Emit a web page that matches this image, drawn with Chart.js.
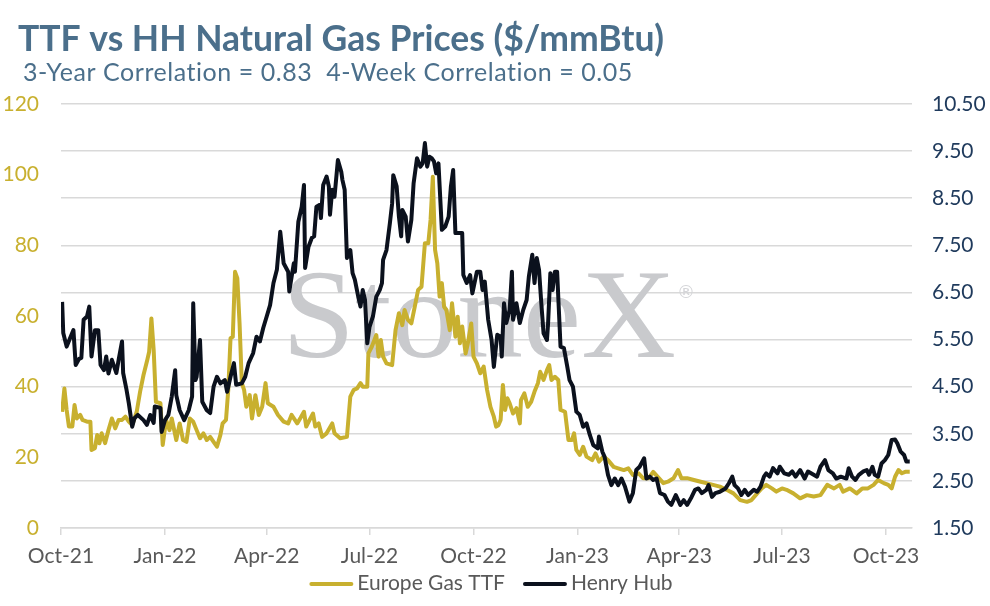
<!DOCTYPE html>
<html>
<head>
<meta charset="utf-8">
<title>TTF vs HH Natural Gas Prices</title>
<script src="https://cdn.jsdelivr.net/npm/chart.js@4.4.1/dist/chart.umd.min.js"></script>
<style>
  html, body { margin: 0; padding: 0; background: #fff; }
  #wrap { width: 990px; height: 606px; position: relative; }
</style>
</head>
<body>
<div id="wrap"><canvas id="chart"></canvas></div>
<script>
/* ── data: days since 1 Oct 2021 ── */
const tickDays   = [0, 92, 182, 273, 365, 457, 547, 638, 730];
const tickLabels = ['Oct-21', 'Jan-22', 'Apr-22', 'Jul-22', 'Oct-22', 'Jan-23', 'Apr-23', 'Jul-23', 'Oct-23'];

const ttfTicks = [0, 20, 40, 60, 80, 100, 120];
const hhTicks  = [1.5, 2.5, 3.5, 4.5, 5.5, 6.5, 7.5, 8.5, 9.5, 10.5];

// Europe Gas TTF ($/mmBtu)
const ttfDays = [1, 3, 5, 7, 10, 12, 14, 17, 19, 23, 26, 27, 30, 32, 34, 36, 39, 42, 45, 48,
  51, 54, 57, 60, 63, 67, 70, 73, 76, 78, 80, 82, 84, 88, 90, 93, 96, 98, 102, 105,
  108, 111, 114, 117, 120, 123, 126, 129, 132, 135, 138, 141, 143, 146, 148, 150, 152, 154, 156, 158,
  160, 162, 164, 167, 169, 172, 175, 178, 181, 183, 188, 192, 197, 201, 204, 209, 212, 215, 217, 220,
  223, 225, 228, 231, 235, 240, 242, 247, 253, 256, 259, 262, 265, 267, 271, 272, 275, 279, 281, 283,
  285, 288, 293, 296, 299, 302, 304, 307, 310, 313, 316, 319, 322, 325, 327, 329, 331, 333, 335, 337,
  339, 341, 344, 346, 349, 351, 353, 355, 358, 360, 363, 365, 368, 371, 374, 377, 380, 383, 385, 387,
  389, 391, 393, 395, 397, 400, 403, 406, 407, 410, 413, 416, 419, 422, 424, 427, 430, 432, 434, 437,
  440, 442, 446, 449, 452, 454, 456, 459, 462, 465, 470, 473, 476, 480, 484, 489, 493, 498, 502, 506,
  511, 515, 520, 524, 529, 533, 537, 542, 546, 549, 554, 560, 566, 571, 577, 583, 589, 595, 601, 607,
  611, 616, 620, 624, 629, 633, 638, 642, 648, 654, 660, 666, 672, 678, 684, 689, 692, 698, 704, 709,
  714, 719, 723, 728, 732, 735, 738, 741, 744, 747, 751];
const ttfValues = [32.9, 39.5, 33.4, 28.7, 28.7, 34.8, 31.0, 32.0, 30.6, 30.1, 30.1, 22.1, 22.6, 26.3, 24.0, 26.8, 24.0, 27.7, 31.0, 28.2,
  30.6, 30.6, 31.5, 30.1, 29.1, 32.9, 38.6, 43.3, 47.1, 49.9, 59.3, 50.4, 35.7, 35.3, 23.5, 30.6, 27.7, 31.0, 24.9, 29.6,
  24.9, 24.4, 31.0, 30.1, 27.7, 25.4, 26.8, 24.9, 25.8, 24.4, 23.0, 26.3, 29.6, 30.6, 39.1, 53.7, 54.1, 72.5, 70.7, 57.9,
  41.0, 39.1, 34.3, 37.6, 31.0, 37.6, 32.0, 34.3, 41.0, 35.3, 34.3, 32.0, 30.1, 29.6, 32.0, 29.6, 31.2, 32.9, 28.7, 30.6,
  32.4, 28.7, 29.6, 25.8, 26.8, 29.6, 26.8, 25.4, 25.8, 37.2, 39.1, 39.5, 41.0, 40.0, 40.0, 49.4, 51.3, 54.6, 48.5, 53.2,
  48.5, 46.6, 46.1, 56.0, 60.8, 57.4, 61.7, 58.9, 57.9, 62.6, 67.4, 68.3, 80.6, 80.6, 87.2, 99.4, 78.7, 74.9, 65.5, 69.3,
  62.6, 61.7, 56.0, 63.6, 54.1, 59.8, 52.3, 57.0, 49.4, 52.3, 57.9, 48.5, 46.6, 43.8, 45.7, 39.1, 34.3, 31.5, 28.7, 29.1,
  30.6, 40.5, 33.4, 36.7, 35.3, 32.4, 33.9, 29.6, 36.2, 38.1, 34.3, 35.7, 38.6, 41.0, 44.2, 41.9, 44.7, 46.1, 41.9, 42.8,
  41.9, 33.4, 32.9, 24.9, 24.9, 26.8, 22.1, 20.7, 23.0, 20.2, 19.2, 21.1, 18.8, 20.2, 19.2, 17.3, 16.9, 16.4, 16.9, 15.0,
  15.5, 14.1, 14.1, 15.9, 14.1, 12.7, 13.1, 14.1, 16.4, 14.1, 14.1, 13.6, 13.1, 12.7, 12.2, 11.7, 10.8, 9.8, 7.9, 7.4,
  7.9, 9.8, 11.2, 12.2, 11.2, 10.3, 11.2, 10.8, 9.8, 8.4, 9.3, 8.9, 9.3, 12.2, 11.2, 12.2, 10.3, 11.2, 9.8, 11.2,
  11.2, 12.2, 13.6, 12.7, 12.2, 11.2, 14.5, 16.4, 15.5, 15.9, 15.9];

// Henry Hub ($/mmBtu)
const hhDays = [1, 2, 5, 8, 11, 13, 16, 18, 20, 23, 25, 27, 30, 33, 35, 38, 40, 42, 45, 49,
  51, 54, 55, 58, 60, 63, 65, 68, 73, 76, 79, 82, 83, 88, 89, 92, 95, 98, 101, 102,
  105, 109, 113, 116, 117, 119, 120, 123, 125, 129, 132, 135, 138, 141, 145, 147, 150, 153, 155, 160,
  163, 166, 170, 173, 176, 179, 182, 185, 188, 191, 194, 197, 201, 202, 206, 207, 210, 213, 215, 216,
  219, 222, 224, 226, 229, 230, 232, 235, 237, 238, 240, 242, 245, 248, 249, 251, 253, 256, 258, 260,
  263, 265, 267, 269, 271, 273, 276, 279, 282, 284, 285, 288, 291, 293, 294, 297, 299, 301, 302, 305,
  307, 310, 312, 315, 318, 320, 322, 324, 326, 328, 330, 332, 334, 337, 340, 343, 345, 347, 349, 352,
  355, 356, 359, 362, 364, 368, 371, 373, 375, 378, 381, 383, 386, 389, 390, 392, 394, 397, 399, 400,
  403, 406, 409, 412, 414, 417, 419, 421, 423, 425, 427, 430, 431, 433, 435, 437, 439, 442, 445, 448,
  450, 453, 456, 459, 462, 465, 468, 471, 475, 476, 479, 481, 484, 487, 490, 493, 496, 499, 503, 506,
  509, 512, 516, 518, 521, 524, 527, 530, 534, 537, 540, 544, 548, 551, 554, 558, 561, 564, 567, 571,
  573, 576, 579, 583, 588, 591, 594, 596, 599, 602, 605, 608, 613, 616, 619, 622, 624, 627, 630, 634,
  636, 640, 644, 647, 650, 654, 658, 661, 666, 669, 672, 676, 679, 683, 686, 690, 695, 697, 700, 703,
  706, 710, 713, 715, 718, 720, 723, 726, 729, 732, 735, 738, 740, 743, 746, 748, 751];
const hhValues = [6.30, 5.64, 5.35, 5.53, 5.70, 4.96, 5.09, 5.11, 5.92, 5.99, 6.20, 5.14, 5.70, 5.70, 4.96, 4.85, 5.14, 4.78, 5.07, 4.79,
  5.07, 5.46, 4.79, 4.43, 4.15, 3.65, 3.83, 3.90, 3.79, 3.69, 3.90, 3.73, 4.08, 4.05, 3.54, 3.79, 3.90, 4.29, 4.85, 4.32,
  4.00, 3.79, 4.00, 4.29, 6.27, 4.64, 4.71, 5.49, 4.18, 4.00, 3.94, 4.50, 4.71, 4.57, 4.64, 4.39, 4.71, 5.00, 4.54, 4.57,
  4.71, 5.00, 5.21, 5.56, 5.46, 5.75, 5.99, 6.23, 6.70, 6.98, 7.79, 7.12, 6.94, 6.52, 7.12, 6.94, 8.00, 8.32, 8.78, 7.02,
  7.47, 7.66, 7.69, 8.32, 8.36, 8.08, 8.78, 8.96, 8.75, 8.15, 8.68, 8.53, 9.31, 9.06, 8.89, 8.68, 7.23, 7.40, 6.91, 6.77,
  6.41, 6.20, 6.55, 6.34, 5.42, 5.77, 5.99, 6.41, 6.55, 6.70, 7.19, 7.40, 7.97, 8.39, 8.99, 8.75, 8.11, 7.69, 8.25, 8.11,
  7.58, 8.04, 8.82, 9.35, 9.17, 9.24, 9.67, 9.17, 9.38, 9.35, 9.28, 9.03, 9.24, 7.83, 7.90, 8.11, 8.75, 9.10, 7.76, 7.76,
  7.76, 6.87, 6.70, 6.87, 6.48, 6.94, 6.94, 6.55, 6.73, 5.92, 5.49, 4.92, 5.60, 5.56, 5.14, 6.27, 5.85, 6.13, 6.94, 5.92,
  6.27, 5.85, 6.13, 6.34, 6.84, 7.30, 6.70, 7.23, 6.98, 6.27, 5.63, 5.49, 5.85, 6.91, 6.55, 6.94, 6.94, 5.35, 5.32, 4.92,
  4.64, 4.50, 3.97, 3.90, 3.65, 3.72, 3.47, 3.26, 3.19, 3.44, 3.12, 3.01, 2.63, 2.41, 2.55, 2.41, 2.55, 2.38, 2.06, 2.24,
  2.73, 2.80, 2.98, 2.55, 2.59, 2.52, 2.55, 2.24, 2.20, 2.06, 1.99, 2.20, 1.99, 2.09, 1.99, 2.16, 2.31, 2.34, 2.24, 2.31,
  2.41, 2.16, 2.24, 2.27, 2.34, 2.45, 2.59, 2.41, 2.34, 2.20, 2.31, 2.20, 2.31, 2.27, 2.38, 2.59, 2.66, 2.59, 2.77, 2.66,
  2.80, 2.66, 2.63, 2.70, 2.59, 2.73, 2.55, 2.70, 2.63, 2.59, 2.80, 2.94, 2.73, 2.66, 2.55, 2.59, 2.55, 2.77, 2.59, 2.52,
  2.63, 2.70, 2.73, 2.63, 2.80, 2.63, 2.59, 2.87, 2.94, 3.05, 3.37, 3.38, 3.30, 3.12, 3.05, 2.91, 2.91];

const chartTitle    = 'TTF vs HH Natural Gas Prices ($/mmBtu)';
const chartSubtitle = '3-Year Correlation = 0.83  4-Week Correlation = 0.05';

/* ── colours ── */
const GOLD  = '#c8b02f';
const INK   = '#0b111d';
const STEEL = '#4b6f8b';
const NAVY  = '#1f3a5c';
const GREY  = '#595959';
const GRID  = '#d9d9d9';
const FONT  = "Lato, 'Noto Sans', sans-serif";

const toPoints = (xs, ys) => xs.map((x, i) => ({ x, y: ys[i] }));

/* ── title + subtitle, drawn in the top padding ── */
const header = {
  id: 'header',
  afterDraw(chart) {
    const { ctx } = chart;
    ctx.save();
    ctx.fillStyle = STEEL;
    ctx.textBaseline = 'middle';
    ctx.textAlign = 'left';
    ctx.font = 'bold 35.5px ' + FONT;
    ctx.fillText(chartTitle, 18, 39.5);
    ctx.font = '25px ' + FONT;
    if ('letterSpacing' in ctx) ctx.letterSpacing = '0.55px';
    ctx.fillText(chartSubtitle, 23, 72.5);
    ctx.restore();
  }
};

/* ── StoneX watermark, drawn under the lines ── */
const watermark = {
  id: 'watermark',
  beforeDatasetsDraw(chart) {
    const { ctx, chartArea: a } = chart;
    ctx.save();
    ctx.fillStyle = '#c9cacd';
    ctx.font = "126px 'Liberation Serif', 'DejaVu Serif', serif";
    ctx.textBaseline = 'alphabetic';
    const w = ctx.measureText('StoneX').width;
    ctx.translate(a.left + 221, a.top + 253);
    ctx.scale(394 / w, 1);
    ctx.fillText('StoneX', 0, 0);
    ctx.restore();
    ctx.save();
    ctx.fillStyle = '#d4d5d8';
    ctx.font = "18px 'DejaVu Sans', sans-serif";
    ctx.fillText('\u00ae', a.left + 616, a.top + 194);
    ctx.restore();
  }
};

/* ── bottom legend with line swatches ── */
const lineLegend = {
  id: 'lineLegend',
  afterDraw(chart) {
    const { ctx } = chart;
    const items = chart.data.datasets;
    ctx.save();
    ctx.font = '21px ' + FONT;
    ctx.textBaseline = 'middle';
    const sw = 44, gap = 4, space = 18;
    const widths = items.map(d => sw + gap + ctx.measureText(d.label).width);
    let x = 491 - (widths.reduce((s, v) => s + v, 0) + space * (items.length - 1)) / 2;
    const y = 583;
    items.forEach((d, i) => {
      ctx.strokeStyle = d.borderColor;
      ctx.lineWidth = 4;
      ctx.lineCap = 'round';
      ctx.beginPath();
      ctx.moveTo(x + 2, y + 1);
      ctx.lineTo(x + sw - 2, y + 1);
      ctx.stroke();
      ctx.fillStyle = GREY;
      ctx.fillText(d.label, x + sw + gap, y);
      x += widths[i] + space;
    });
    ctx.restore();
  }
};

new Chart(document.getElementById('chart'), {
  type: 'line',
  data: {
    datasets: [
      {
        label: 'Europe Gas TTF',
        data: toPoints(ttfDays, ttfValues),
        yAxisID: 'yTtf',
        borderColor: GOLD, backgroundColor: GOLD,
        borderWidth: 4, pointRadius: 0, tension: 0, order: 2,
        borderJoinStyle: 'round'
      },
      {
        label: 'Henry Hub',
        data: toPoints(hhDays, hhValues),
        yAxisID: 'yHh',
        borderColor: INK, backgroundColor: INK,
        borderWidth: 4, pointRadius: 0, tension: 0, order: 1,
        borderJoinStyle: 'round'
      }
    ]
  },
  options: {
    responsive: true, maintainAspectRatio: false,
    animation: false,
    layout: { padding: { left: 0, right: 0, top: 104, bottom: 0 } },
    plugins: {
      legend: { display: false },
      tooltip: { enabled: false },
      title: { display: false }
    },
    scales: {
      x: {
        type: 'linear',
        min: 0, max: 753,
        afterBuildTicks: axis => { axis.ticks = tickDays.map(v => ({ value: v })); },
        afterFit: axis => { axis.height = 78; },
        ticks: {
          color: GREY, padding: 9, maxRotation: 0, autoSkip: false,
          font: { family: FONT, size: 21 },
          callback: v => tickLabels[tickDays.indexOf(v)]
        },
        grid: { drawOnChartArea: false, drawTicks: true, tickLength: 7, color: GRID, lineWidth: 1.5 },
        border: { display: true, color: GRID, width: 1.5 }
      },
      yTtf: {
        position: 'left',
        min: 0, max: 120,
        afterBuildTicks: axis => { axis.ticks = ttfTicks.map(v => ({ value: v })); },
        afterFit: axis => { axis.width = 61; },
        ticks: {
          color: GOLD, padding: 22,
          font: { family: FONT, size: 21 }
        },
        grid: { display: false, drawTicks: false, tickLength: 0 },
        border: { display: false }
      },
      yHh: {
        position: 'right',
        min: 1.5, max: 10.5,
        afterBuildTicks: axis => { axis.ticks = hhTicks.map(v => ({ value: v })); },
        afterFit: axis => { axis.width = 78; },
        ticks: {
          color: NAVY, padding: 20,
          font: { family: FONT, size: 21 },
          callback: v => v.toFixed(2)
        },
        grid: { color: GRID, lineWidth: 1.5, drawTicks: false },
        border: { display: false }
      }
    }
  },
  plugins: [header, watermark, lineLegend]
});
</script>
</body>
</html>
